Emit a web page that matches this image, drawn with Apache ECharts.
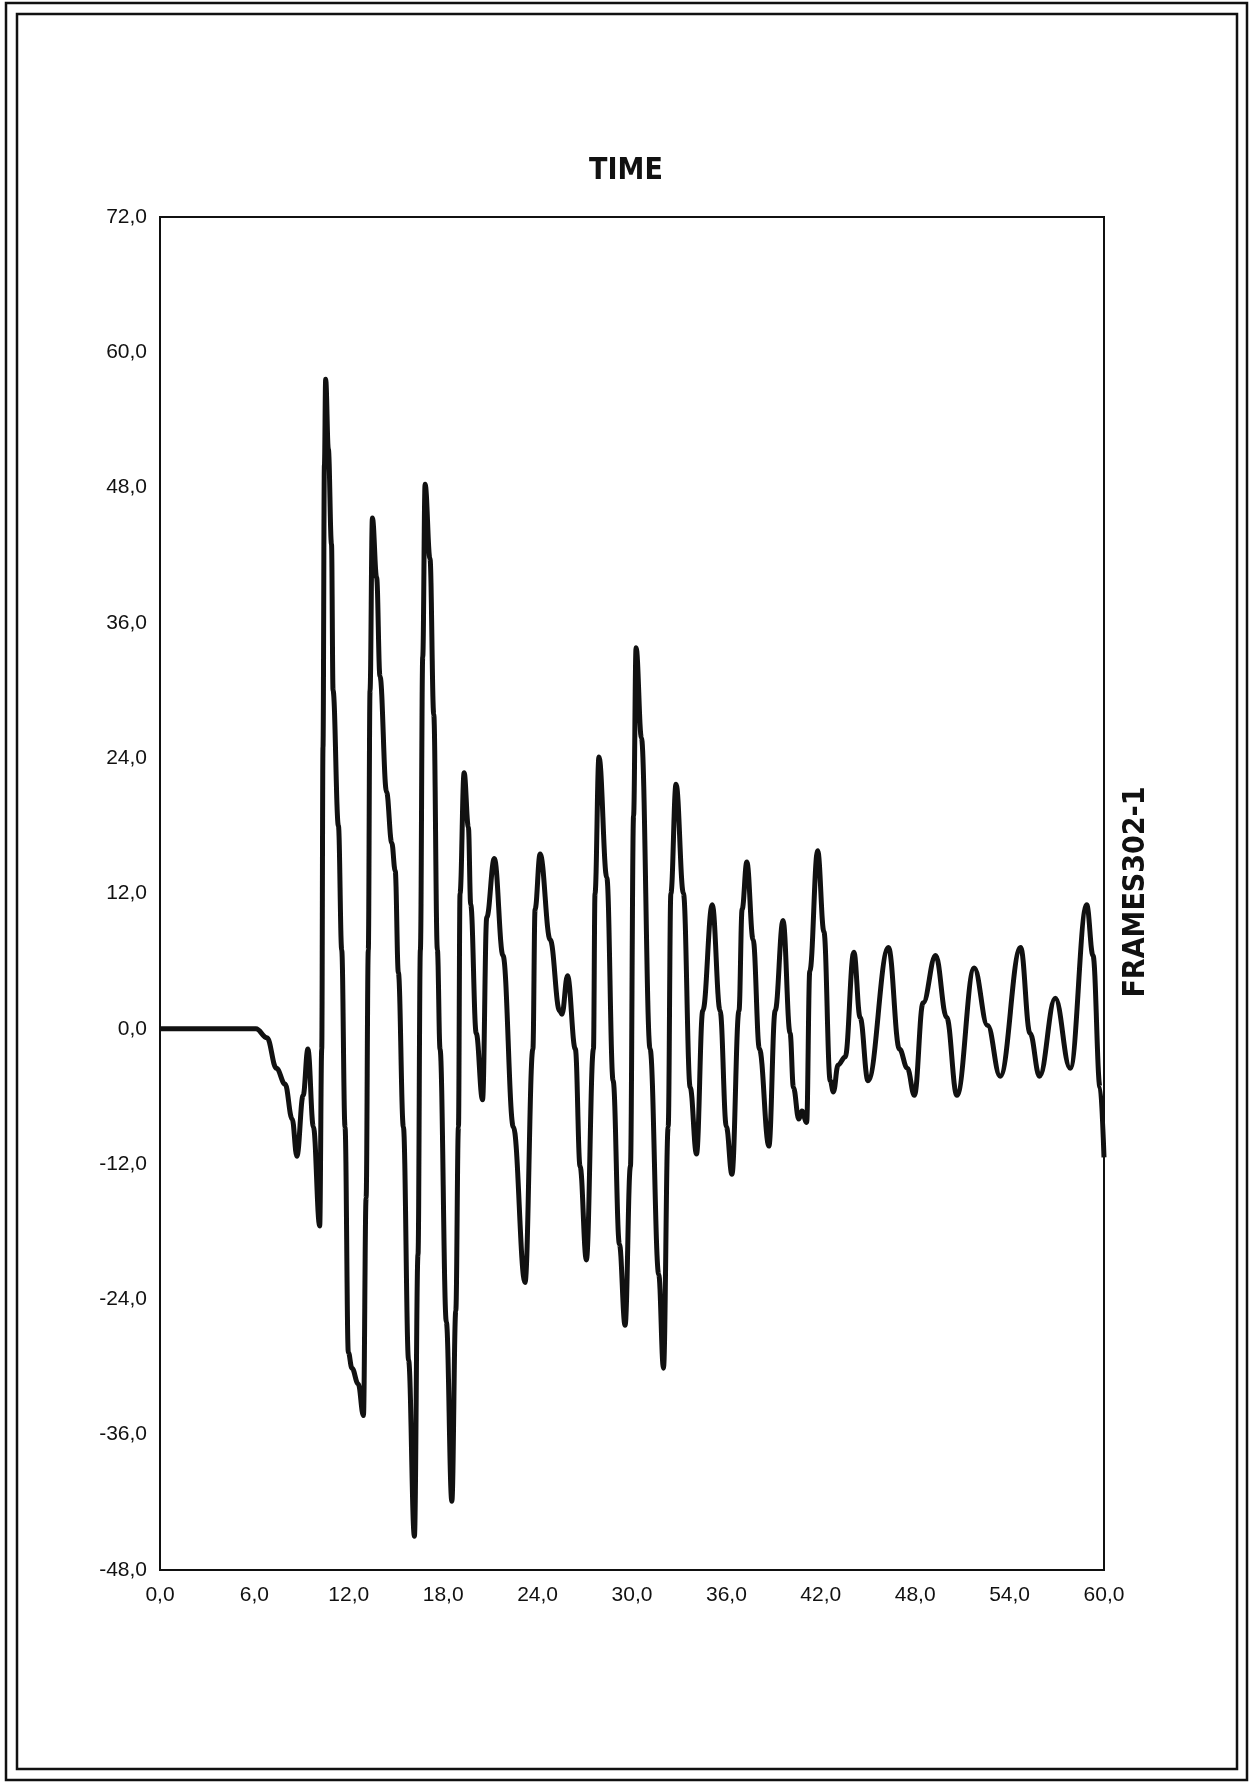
<!DOCTYPE html>
<html>
<head>
<meta charset="utf-8">
<script src="https://cdn.jsdelivr.net/npm/echarts@6/dist/echarts.min.js"></script>
<style>
html,body{margin:0;padding:0;background:#fff;}
#chart{width:1250px;height:1782px;}
</style>
</head>
<body>
<div id="chart"></div>
<script>
// ---- data ----
var chartTitle = 'TIME';
var seriesName = 'FRAMES302-1';
var xTicks = [0, 6, 12, 18, 24, 30, 36, 42, 48, 54, 60];
var yTicks = [-48, -36, -24, -12, 0, 12, 24, 36, 48, 60, 72];
var times = [
  0, 6.1, 6.8, 7.4, 7.95, 8.4, 8.7, 9.1, 9.4, 9.75, 10.15, 10.28, 10.36, 10.45, 10.53,
  10.7, 10.9, 11.0, 11.34, 11.55, 11.76, 11.97, 12.2, 12.6, 12.93, 13.1, 13.24, 13.35, 13.5,
  13.77, 13.98, 14.4, 14.73, 14.95, 15.15, 15.47, 15.8, 16.17, 16.4, 16.55, 16.7, 16.85,
  17.16, 17.4, 17.63, 17.8, 18.2, 18.55, 18.8, 18.97, 19.07, 19.33, 19.6, 19.75, 20.1, 20.5,
  20.77, 21.25, 21.8, 22.46, 23.2, 23.7, 23.84, 24.16, 24.8, 25.4, 25.55, 25.9, 26.4, 26.7,
  27.1, 27.55, 27.65, 27.9, 28.4, 28.8, 29.2, 29.56, 29.9, 30.1, 30.26, 30.6, 31.15, 31.7,
  32.0, 32.3, 32.47, 32.8, 33.27, 33.7, 34.1, 34.5, 35.1, 35.6, 36.0, 36.35, 36.8, 37.0,
  37.3, 37.7, 38.1, 38.7, 39.1, 39.6, 40.05, 40.26, 40.6, 40.8, 41.1, 41.3, 41.8, 42.2,
  42.6, 42.8, 43.1, 43.55, 44.1, 44.5, 45.0, 46.3, 47.0, 47.5, 47.95, 48.5, 49.3, 50.0,
  50.65, 51.75, 52.6, 53.4, 54.7, 55.3, 55.9, 56.9, 57.85, 58.9, 59.3, 59.75, 60
];
var values = [
  0, 0, -0.8, -3.5, -4.9, -8, -11.3, -5.9, -1.8, -8.7, -17.5, -1.8, 25, 50, 57.6,
  51.4, 43, 30, 18, 7, -8.7, -28.7, -30.1, -31.5, -34.3, -15, 7, 30, 45.3,
  40, 31.3, 21, 16.5, 14, 5, -8.7, -29.4, -45, -20, 7, 33, 48.3,
  41.7, 27.9, 7, -1.8, -26, -41.9, -25, -8.7, 12, 22.7, 17.9, 11, -0.4, -6.3,
  9.9, 15.1, 6.5, -8.7, -22.5, -1.8, 10.6, 15.5, 7.9, 1.6, 1.3, 4.7, -1.8, -12.2,
  -20.5, -1.8, 12, 24.1, 13.4, -4.6, -19.1, -26.3, -12.2, 18.9, 33.8, 25.8, -1.8, -21.8,
  -30.1, -8.7, 12, 21.7, 12, -5.2, -11.1, 1.6, 11.0, 1.6, -8.7, -12.9, 1.6, 10.6,
  14.8, 7.9, -1.8, -10.4, 1.6, 9.6, -0.4, -5.2, -8.0, -7.3, -8.3, 5.1, 15.8, 8.6,
  -4.6, -5.6, -3.2, -2.5, 6.8, 1, -4.6, 7.2, -1.8, -3.5, -5.9, 2.3, 6.5, 1.0,
  -5.9, 5.4, 0.3, -4.2, 7.2, -0.4, -4.2, 2.7, -3.5, 11.0, 6.5, -5.2, -11.4
];

var points = times.map(function (t, i) { return [t, values[i]]; });
function fmt(v) { return v.toFixed(1).replace('.', ','); }

var chart = echarts.init(document.getElementById('chart'), null, {renderer: 'canvas'});
chart.setOption({
  backgroundColor: '#ffffff',
  animation: false,
  grid: {
    left: 160, right: 146, top: 217, bottom: 212,
    show: true, borderColor: '#111', borderWidth: 2, backgroundColor: 'transparent'
  },
  xAxis: {
    type: 'value', min: xTicks[0], max: xTicks[xTicks.length - 1], interval: 6,
    axisLine: {show: true, onZero: false, lineStyle: {color: '#111', width: 2}},
    axisTick: {show: false},
    splitLine: {show: false},
    axisLabel: {
      formatter: fmt, margin: 15, color: '#111',
      fontFamily: 'Liberation Sans, Arial, sans-serif', fontSize: 21
    }
  },
  yAxis: {
    type: 'value', min: yTicks[0], max: yTicks[yTicks.length - 1], interval: 12,
    axisLine: {show: true, onZero: false, lineStyle: {color: '#111', width: 2}},
    axisTick: {show: false},
    splitLine: {show: false},
    axisLabel: {
      formatter: fmt, margin: 13, color: '#111',
      fontFamily: 'Liberation Sans, Arial, sans-serif', fontSize: 21
    }
  },
  series: [{
    name: seriesName,
    type: 'line',
    data: points,
    showSymbol: false,
    smooth: 0.4,
    smoothMonotone: 'x',
    lineStyle: {color: '#111', width: 5},
    z: 3
  }],
  graphic: [
    {type: 'rect', shape: {x: 6, y: 3, width: 1241, height: 1777},
     style: {fill: 'none', stroke: '#111', lineWidth: 2.5}, silent: true},
    {type: 'rect', shape: {x: 17, y: 14, width: 1220, height: 1755},
     style: {fill: 'none', stroke: '#111', lineWidth: 2.5}, silent: true},
    {type: 'text', x: 626, y: 171,
     style: {text: chartTitle, fill: '#111', font: 'bold 30px "DejaVu Sans Condensed", "DejaVu Sans", sans-serif',
             textAlign: 'center', textVerticalAlign: 'middle'}},
    {type: 'text', x: 1136, y: 892, rotation: Math.PI / 2,
     style: {text: seriesName, fill: '#111', font: 'bold 30px "DejaVu Sans Condensed", "DejaVu Sans", sans-serif',
             textAlign: 'center', textVerticalAlign: 'middle'}}
  ]
});
</script>
</body>
</html>
